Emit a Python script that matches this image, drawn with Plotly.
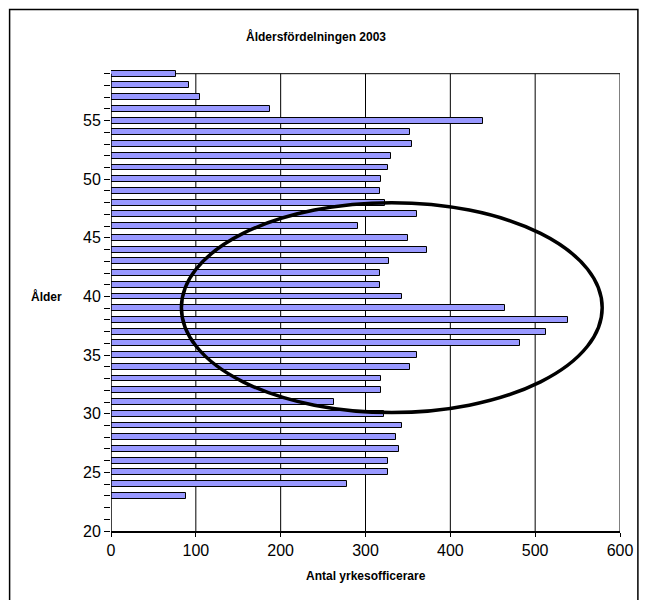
import plotly.graph_objects as go

ages = list(range(23, 60))
counts = [88, 278, 327, 327, 339, 336, 343, 322, 263, 318,
          318, 353, 361, 482, 513, 539, 464, 343, 317, 317,
          328, 373, 350, 291, 361, 323, 317, 318, 327, 330,
          355, 352, 439, 187, 105, 92, 77]
x_ticks = [0, 100, 200, 300, 400, 500, 600]
y_ticks = [20, 25, 30, 35, 40, 45, 50, 55]

title_text = "Åldersfördelningen 2003"
x_title = "Antal yrkesofficerare"
y_title = "Ålder"

FONT = "Liberation Sans, Arial, sans-serif"

fig = go.Figure()
fig.add_trace(go.Bar(
    x=counts, y=ages, orientation="h", width=0.5,
    marker=dict(color="#9999FF", line=dict(color="#000000", width=1)),
    showlegend=False, hoverinfo="x+y",
))

# plot geometry (px)
L, R_px, B_px = 111, 623, 530.7
W, H = 645, 600
y_lo, y_hi = 20, 59.4
unit = 11.73
plot_h = (y_hi - y_lo) * unit
top_px = B_px - plot_h

shapes = []
for xv in x_ticks[1:]:
    shapes.append(dict(type="line", xref="x", yref="y", x0=xv, x1=xv, y0=20, y1=59,
                       line=dict(color="#000000", width=1), layer="below"))
shapes.append(dict(type="line", xref="x", yref="y", x0=0, x1=600, y0=59, y1=59,
                   line=dict(color="#000000", width=1), layer="below"))
shapes.append(dict(type="line", xref="x", yref="y", x0=0, x1=0, y0=20, y1=59,
                   line=dict(color="#000000", width=1.5)))
shapes.append(dict(type="circle", xref="x", yref="y", x0=83, x1=579, y0=30.1, y1=48.0,
                   line=dict(color="#000000", width=3.5)))


def px_to_paper_x(px):
    return (px - L) / (R_px - L)


def px_to_paper_y(py):
    return (B_px - py) / plot_h


shapes.append(dict(type="rect", xref="paper", yref="paper",
                   x0=px_to_paper_x(9), x1=px_to_paper_x(641),
                   y0=px_to_paper_y(603), y1=px_to_paper_y(9),
                   line=dict(color="#000000", width=1.5)))

fig.update_layout(
    width=W, height=H,
    margin=dict(l=L, r=W - R_px, t=top_px, b=H - B_px, pad=0),
    paper_bgcolor="white", plot_bgcolor="white",
    font=dict(family=FONT, color="#000000"),
    shapes=shapes,
    bargap=0,
    annotations=[
        dict(text="<b>" + title_text + "</b>", xref="paper", yref="paper",
             x=px_to_paper_x(317), y=px_to_paper_y(36), showarrow=False,
             font=dict(size=12, family=FONT), xanchor="center", yanchor="middle"),
        dict(text="<b>" + y_title + "</b>", xref="paper", yref="paper",
             x=px_to_paper_x(46), y=px_to_paper_y(296), showarrow=False,
             font=dict(size=12, family=FONT), xanchor="center", yanchor="middle"),
        dict(text="<b>" + x_title + "</b>", xref="paper", yref="paper",
             x=px_to_paper_x(367), y=px_to_paper_y(576), showarrow=False,
             font=dict(size=12, family=FONT), xanchor="center", yanchor="middle"),
    ],
)

fig.update_xaxes(
    range=[0, 600], tickvals=x_ticks, ticks="outside", ticklen=4, tickcolor="#000",
    showgrid=False, zeroline=False, showline=True, linecolor="#000", linewidth=1.5,
    tickfont=dict(size=16, family=FONT), fixedrange=True,
)
fig.update_yaxes(
    range=[y_lo, y_hi], tickvals=y_ticks, ticks="outside", ticklen=6, tickcolor="#000",
    minor=dict(dtick=1, tick0=20, ticks="outside", ticklen=6, tickcolor="#000", showgrid=False),
    showgrid=False, zeroline=False, showline=False,
    tickfont=dict(size=16, family=FONT), fixedrange=True,
)

fig.write_html(
    "out.html",
    config={"displayModeBar": False},
    post_script="document.body.style.margin='0';document.body.style.overflow='hidden';",
)
